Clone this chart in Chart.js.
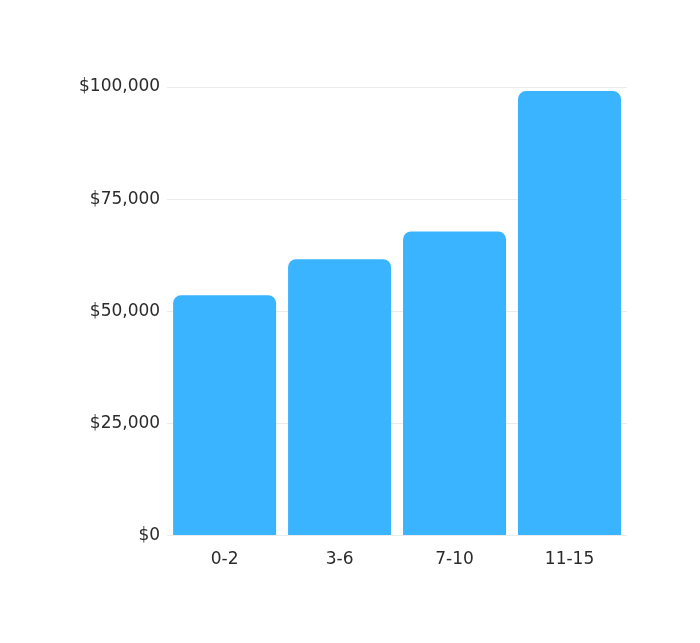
<!DOCTYPE html>
<html>
<head>
<meta charset="utf-8">
<script src="https://cdn.jsdelivr.net/npm/chart.js@4"></script>
<style>
  html, body { margin: 0; padding: 0; background: #ffffff; }
  #wrap { width: 700px; height: 643px; }
</style>
</head>
<body>
<div id="wrap"><canvas id="chartSalario"></canvas></div>
<script>
// dados
const categorias = ['0-2', '3-6', '7-10', '11-15'];
const salarios = [53600, 61600, 67800, 99100];
const ticksY = [0, 25000, 50000, 75000, 100000];

const corBarra = '#3AB4FF';
const corTexto = '#2b2b2b';
const fonte = { family: 'DejaVu Sans', size: 17 };

new Chart(document.getElementById('chartSalario'), {
    type: 'bar',
    data: {
        labels: categorias,
        datasets: [{
            data: salarios,
            backgroundColor: corBarra,
            borderRadius: { topLeft: 8, topRight: 8, bottomLeft: 0, bottomRight: 0 },
            borderSkipped: false,
            barPercentage: 0.896,
            categoryPercentage: 1.0
        }]
    },
    options: {
        responsive: true,
        maintainAspectRatio: false,
        animation: false,
        layout: { padding: { left: 72, right: 73, top: 87, bottom: 67 } },
        plugins: {
            legend: { display: false },
            tooltip: { enabled: false }
        },
        scales: {
            y: {
                min: 0,
                max: 100000,
                afterBuildTicks: axis => { axis.ticks = ticksY.map(v => ({ value: v })); },
                border: { display: false },
                grid: { color: '#ebebeb', lineWidth: 1, drawTicks: false },
                ticks: {
                    padding: 7,
                    color: corTexto,
                    font: fonte,
                    callback: v => '$' + v.toLocaleString('en-US')
                }
            },
            x: {
                border: { display: false },
                grid: { display: false },
                ticks: {
                    padding: 6,
                    color: corTexto,
                    font: fonte
                }
            }
        }
    }
});
</script>
</body>
</html>
